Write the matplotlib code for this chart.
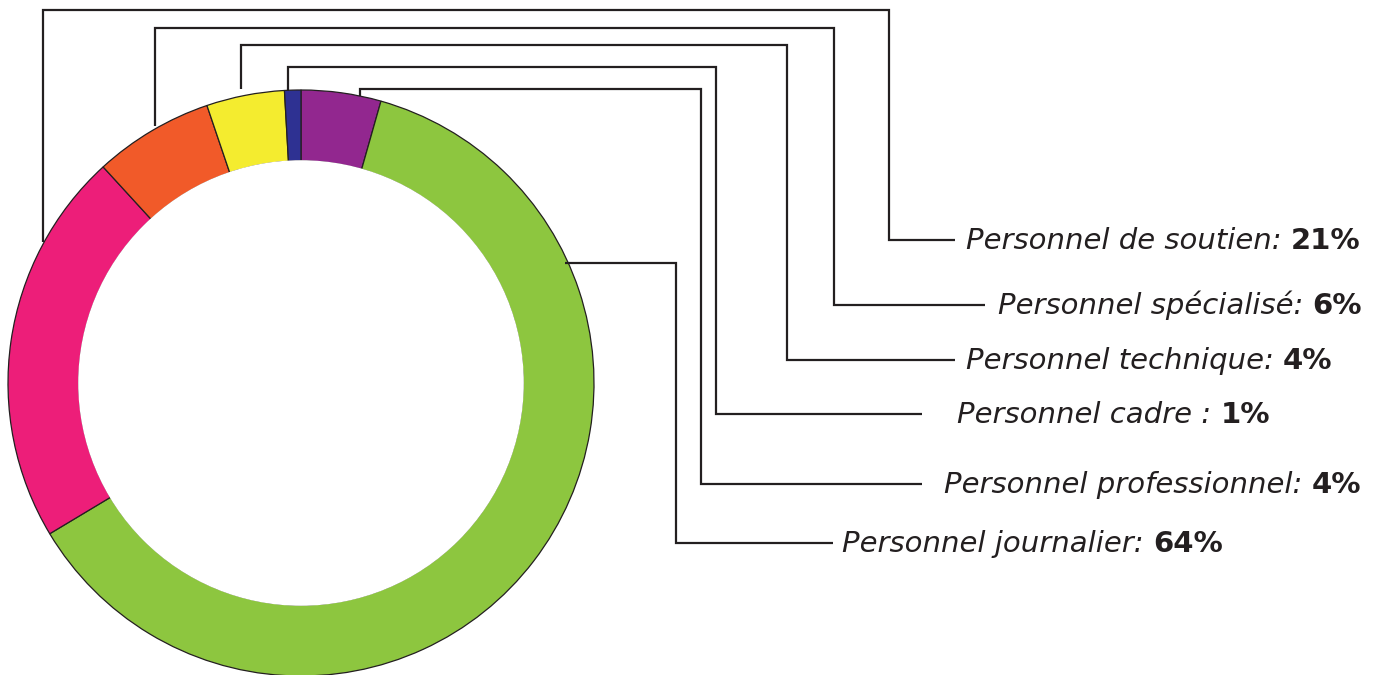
import matplotlib
matplotlib.use("Agg")
import matplotlib.pyplot as plt
from matplotlib.patches import Circle

# ---- data (clockwise from 12 o'clock) ----
categories = ["Personnel professionnel", "Personnel journalier", "Personnel de soutien",
              "Personnel spécialisé", "Personnel technique", "Personnel cadre"]
# slice shares as drawn in the picture
shares = [4.4, 62.0, 21.8, 6.6, 4.3, 0.9]
# percentages printed in the labels
label_pct = ["4%", "64%", "21%", "6%", "4%", "1%"]
label_sep = [": ", ": ", ": ", ": ", ": ", " : "]
colors = ["#92278f", "#8dc63f", "#ed1e79", "#f15a29", "#f4ec2f", "#2e3192"]

INK = "#231f20"
W, H = 1390, 675
fig = plt.figure(figsize=(W / 100, H / 100), dpi=100)
ax = fig.add_axes([0, 0, 1, 1])

cx, cy, R, r = 301, 383, 293, 222
ax.pie(shares, colors=colors, startangle=-90, counterclock=True,
       center=(cx, cy), radius=R,
       wedgeprops=dict(width=R - r, edgecolor=INK, linewidth=0.9))
ax.add_patch(Circle((cx, cy), r + 0.8, facecolor="white", edgecolor="none", zorder=5))
ax.set_xlim(0, W)
ax.set_ylim(H, 0)
ax.set_aspect("auto")
ax.axis("off")

# leader lines (pixel layout)
leaders = {
    "Personnel de soutien": [(43, 242), (43, 10), (889, 10), (889, 240), (955, 240)],
    "Personnel spécialisé": [(155, 126), (155, 28), (834, 28), (834, 305), (985, 305)],
    "Personnel technique": [(241, 89), (241, 45), (787, 45), (787, 360), (955, 360)],
    "Personnel cadre": [(288, 91), (288, 67), (716, 67), (716, 414), (922, 414)],
    "Personnel professionnel": [(360, 96), (360, 89), (701, 89), (701, 484), (922, 484)],
    "Personnel journalier": [(565, 263), (676, 263), (676, 543), (833, 543)],
}
text_x = {
    "Personnel de soutien": 966,
    "Personnel spécialisé": 998,
    "Personnel technique": 966,
    "Personnel cadre": 957,
    "Personnel professionnel": 944,
    "Personnel journalier": 842,
}
for name, pts in leaders.items():
    xs = [p[0] for p in pts]
    ys = [p[1] for p in pts]
    ax.plot(xs, ys, color=INK, lw=1.6, solid_joinstyle="miter", solid_capstyle="butt", zorder=6)

fig.canvas.draw()
renderer = fig.canvas.get_renderer()
FONT = "DejaVu Sans"
FS = 21
for name, pct, sep in zip(categories, label_pct, label_sep):
    y = leaders[name][-1][1] + 9
    t = ax.text(text_x[name], y, name + sep.rstrip() + " ", fontsize=FS, family=FONT,
                style="italic", color=INK, ha="left", va="baseline")
    bb = t.get_window_extent(renderer=renderer)
    x_end = ax.transData.inverted().transform((bb.x1, bb.y0))[0]
    ax.text(x_end, y, pct, fontsize=FS, family=FONT, weight="bold",
            color=INK, ha="left", va="baseline")

fig.savefig("out.png", dpi=100, facecolor="white")
